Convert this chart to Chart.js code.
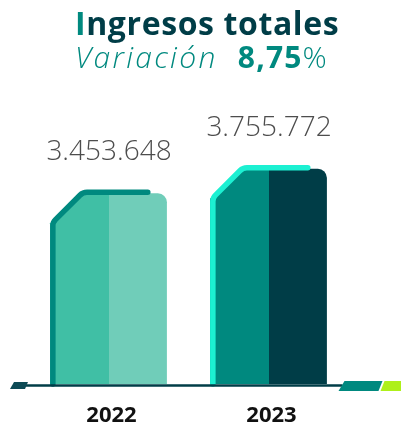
<!DOCTYPE html>
<html><head><meta charset="utf-8">
<script src="https://cdn.jsdelivr.net/npm/chart.js@4"></script>
<style>
html,body{margin:0;padding:0;background:#fff;}
#wrap{position:relative;width:401px;height:426px;overflow:hidden;}
canvas{position:absolute;left:0;top:0;}
.t{position:absolute;left:75px;white-space:nowrap;}
#t1{top:7px;font:700 32px 'Open Sans';line-height:32px;color:#003d47;letter-spacing:0.6px;}
#t1 .i{color:#00897f;}
#t2{top:42px;font:300 30px 'Open Sans';line-height:30px;color:#00897f;letter-spacing:2.3px;}
#t2 .v{font-style:italic;font-weight:300;}
#t2 .p{font-weight:700;letter-spacing:1.2px;}
</style></head>
<body><div id="wrap">
<canvas id="c" width="401" height="426"></canvas>
<div class="t" id="t1"><span class="i">I</span>ngresos totales</div>
<div class="t" id="t2"><span class="v">Variación</span>&nbsp; <span class="p">8,75</span>%</div>
</div>
<script>
const years = ['2022', '2023'];
const ingresos = [3453648, 3755772];
const valueLabels = ['3.453.648', '3.755.772'];
const leftColors = ['#40bfa5', '#00897f'];
const rightColors = ['#70cdb9', '#003d47'];
const outlineColors = ['#00897f', '#1cf0d2'];

const shapePlugin = {
  id: 'shapes',
  afterDatasetsDraw(chart) {
    const ctx = chart.ctx;
    const ca = chart.chartArea;
    const left = chart.getDatasetMeta(0).data;
    const right = chart.getDatasetMeta(1).data;
    left.forEach((el, i) => {
      const p = el.getProps(['x', 'y', 'base', 'width'], true);
      const x0 = p.x - p.width / 2, x1 = p.x + p.width / 2;
      const top = p.y, base = Math.min(p.base, ca.bottom);
      const ch = 30;
      ctx.save();
      ctx.fillStyle = leftColors[i];
      ctx.beginPath();
      ctx.moveTo(x0, base);
      ctx.lineTo(x0, top + ch);
      ctx.lineTo(x0 + ch, top);
      ctx.lineTo(x1 + 0.5, top);
      ctx.lineTo(x1 + 0.5, base);
      ctx.closePath();
      ctx.fill();
      const rp = right[i].getProps(['x', 'width'], true);
      const lw = 5.5, o = lw / 2;
      ctx.strokeStyle = outlineColors[i];
      ctx.lineWidth = lw;
      ctx.lineJoin = 'round';
      ctx.beginPath();
      const tx = x0 + o, ty = top - 1;
      ctx.moveTo(tx, base);
      ctx.arcTo(tx, ty + ch, tx + ch, ty, 9);
      ctx.arcTo(tx + ch, ty, rp.x, ty, 10);
      ctx.lineTo(rp.x + rp.width * 0.22 - o, ty);
      ctx.lineCap = 'round';
      ctx.stroke();
      ctx.restore();
      ctx.save();
      ctx.fillStyle = '#4d4d4d';
      ctx.font = '300 28px "Open Sans"';
      ctx.textAlign = 'center';
      ctx.textBaseline = 'alphabetic';
      ctx.fillText(valueLabels[i], (x0 + rp.x + rp.width / 2) / 2 + 0.5, top - 33);
      ctx.restore();
    });
  },
  afterDraw(chart) {
    const ctx = chart.ctx;
    const ca = chart.chartArea;
    const y = ca.bottom;
    ctx.save();
    ctx.strokeStyle = '#003d47';
    ctx.lineWidth = 2.5;
    ctx.beginPath();
    ctx.moveTo(20, y + 1.5);
    ctx.lineTo(ca.right - 6, y + 1.5);
    ctx.stroke();
    ctx.fillStyle = '#0d4a55';
    ctx.beginPath();
    ctx.moveTo(14, y - 2); ctx.lineTo(28, y - 2); ctx.lineTo(25, y + 5); ctx.lineTo(10, y + 5); ctx.closePath(); ctx.fill();
    ctx.fillStyle = '#00897f';
    ctx.beginPath();
    ctx.moveTo(ca.right - 4, y - 3); ctx.lineTo(ca.right + 34, y - 3); ctx.lineTo(ca.right + 30, y + 7); ctx.lineTo(ca.right - 10, y + 7); ctx.closePath(); ctx.fill();
    ctx.fillStyle = '#aef01a';
    ctx.beginPath();
    ctx.moveTo(ca.right + 36, y - 3); ctx.lineTo(ca.right + 60, y - 3); ctx.lineTo(ca.right + 60, y + 7); ctx.lineTo(ca.right + 32, y + 7); ctx.closePath(); ctx.fill();
    ctx.fillStyle = '#111111';
    ctx.font = '700 22px "Open Sans"';
    ctx.textAlign = 'center';
    ctx.textBaseline = 'alphabetic';
    years.forEach((yr, i) => {
      ctx.fillText(yr, chart.scales.x.getPixelForValue(i) + 3, y + 38);
    });
    ctx.restore();
  }
};

new Chart(document.getElementById('c'), {
  type: 'bar',
  data: {
    labels: years,
    datasets: [
      { data: ingresos, backgroundColor: 'rgba(0,0,0,0)', borderWidth: 0 },
      { data: ingresos, backgroundColor: rightColors, borderWidth: 0,
        borderRadius: { topLeft: 0, topRight: 9, bottomLeft: 0, bottomRight: 0 }, borderSkipped: false }
    ]
  },
  options: {
    responsive: false,
    animation: false,
    events: [],
    layout: { padding: { left: 28.5, right: 52.5, top: 68, bottom: 42 } },
    datasets: { bar: { categoryPercentage: 0.73, barPercentage: 1 } },
    plugins: { legend: { display: false }, tooltip: { enabled: false }, title: { display: false } },
    scales: {
      x: { display: false, grid: { display: false } },
      y: { display: false, min: 1100000, max: 5000000 }
    }
  },
  plugins: [shapePlugin]
});
</script>
</body></html>
